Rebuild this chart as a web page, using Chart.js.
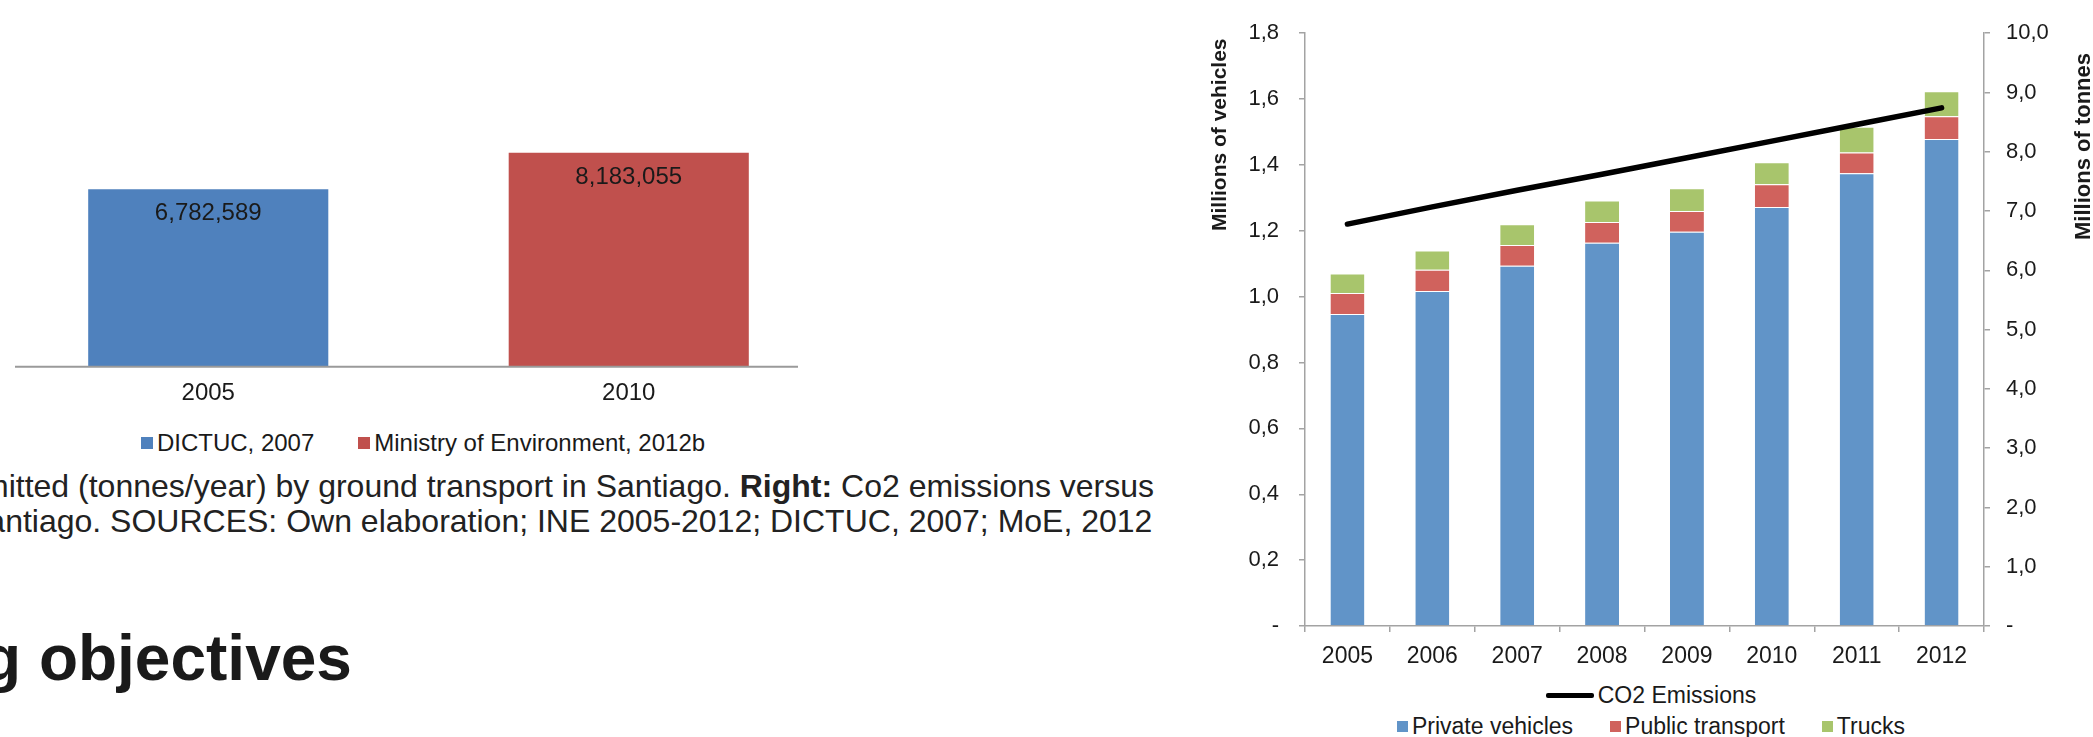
<!DOCTYPE html>
<html>
<head>
<meta charset="utf-8">
<script src="https://cdn.jsdelivr.net/npm/chart.js@4.4.1/dist/chart.umd.min.js"></script>
<style>
  html, body { margin: 0; padding: 0; background: #ffffff; }
  body { position: relative; width: 2093px; height: 737px; overflow: hidden; font-family: "Liberation Sans", Arial, sans-serif; color: #1a1a1a; }
  canvas { position: absolute; display: block; }
  .line { position: absolute; white-space: nowrap; font-size: 32px; line-height: 35px; color: #222; }
  .heading { position: absolute; white-space: nowrap; font-size: 64px; line-height: 64px; font-weight: bold; color: #1a1a1a; }
  .vtitle { position: absolute; white-space: nowrap; font-weight: bold; line-height: 1; transform-origin: left top; color: #1a1a1a; }
  .legend { position: absolute; display: flex; justify-content: center; align-items: center; white-space: nowrap; color: #1a1a1a; }
  .legend .item { display: flex; align-items: center; }
  .legend .swatch { display: inline-block; margin-right: 4px; }
</style>
</head>
<body>
<canvas id="inventory" width="841" height="326" style="left:-2px; top:100px;"></canvas>
<div id="inventoryLegend" class="legend" style="left:0px; top:431px; width:846px; height:24px; font-size:24px; line-height:24px;"></div>

<div class="line" style="left:-18px; top:469px;">mitted (tonnes/year) by ground transport in Santiago. <b>Right:</b> Co2 emissions versus</div>
<div class="line" style="left:-34px; top:504px;">Santiago. SOURCES: Own elaboration; INE 2005-2012; DICTUC, 2007; MoE, 2012</div>
<div class="heading" style="left:-18px; top:626px;">g objectives</div>

<canvas id="fleet" width="993" height="680" style="left:1100px; top:0px;"></canvas>
<div class="vtitle" style="left:1208px; top:231px; font-size:21px; transform: rotate(-90deg);">Millions of vehicles</div>
<div class="vtitle" style="left:2072px; top:240px; font-size:22px; transform: rotate(-90deg);">Millions of tonnes</div>
<div id="fleetLegendLine" class="legend" style="left:1351px; top:684px; width:600px; height:23px; font-size:23px; line-height:23px;"></div>
<div id="fleetLegendBars" class="legend" style="left:1351px; top:715px; width:600px; height:23px; font-size:23px; line-height:23px;"></div>

<script>
// ---- CO2 inventories (tonnes/year) ----
const inventoryYears = ['2005', '2010'];
const dictucTonnes = [6782589, null];
const ministryTonnes = [null, 8183055];

// ---- Vehicle fleet (millions) and CO2 emissions (millions of tonnes) ----
const years = ['2005', '2006', '2007', '2008', '2009', '2010', '2011', '2012'];
const privateVehicles = [0.947, 1.017, 1.094, 1.164, 1.197, 1.272, 1.375, 1.479];
const publicTransport = [0.064, 0.065, 0.063, 0.063, 0.063, 0.069, 0.063, 0.069];
const trucks = [0.059, 0.058, 0.063, 0.065, 0.069, 0.067, 0.078, 0.076];
const co2Emissions = [6.78, 7.07, 7.35, 7.62, 7.90, 8.18, 8.46, 8.74];

const vehicleTicks = [0, 0.2, 0.4, 0.6, 0.8, 1.0, 1.2, 1.4, 1.6, 1.8];
const vehicleTickLabels = ['-', '0,2', '0,4', '0,6', '0,8', '1,0', '1,2', '1,4', '1,6', '1,8'];
const tonneTicks = [0, 1, 2, 3, 4, 5, 6, 7, 8, 9, 10];
const tonneTickLabels = ['-', '1,0', '2,0', '3,0', '4,0', '5,0', '6,0', '7,0', '8,0', '9,0', '10,0'];

const FONT = '"Liberation Sans", Arial, sans-serif';
const INK = '#1a1a1a';
const AXIS = '#a3a3a3';

// Baseline of the inventory chart and the value printed inside each bar
const inventoryDecor = {
  id: 'inventoryDecor',
  afterDatasetsDraw(chart) {
    const ctx = chart.ctx;
    const y0 = chart.scales.y.getPixelForValue(0);
    ctx.save();
    ctx.strokeStyle = '#9a9a9a';
    ctx.lineWidth = 2;
    ctx.beginPath();
    ctx.moveTo(17, y0 + 0.7);
    ctx.lineTo(800, y0 + 0.7);
    ctx.stroke();
    ctx.fillStyle = INK;
    ctx.font = '24px ' + FONT;
    ctx.textAlign = 'center';
    ctx.textBaseline = 'middle';
    chart.data.datasets.forEach((ds, di) => {
      chart.getDatasetMeta(di).data.forEach((bar, i) => {
        const v = ds.data[i];
        if (v == null) return;
        ctx.fillText(v.toLocaleString('en-US'), bar.x, bar.y + 24.5);
      });
    });
    ctx.restore();
  }
};

const inventoryChart = new Chart(document.getElementById('inventory'), {
  type: 'bar',
  data: {
    labels: inventoryYears,
    datasets: [
      { label: 'DICTUC, 2007', data: dictucTonnes, backgroundColor: '#4f81bd' },
      { label: 'Ministry of Environment, 2012b', data: ministryTonnes, backgroundColor: '#c0504d' }
    ]
  },
  options: {
    responsive: false,
    animation: false,
    devicePixelRatio: 1,
    layout: { padding: { top: 31.5, left: 0, right: 0, bottom: 0 } },
    datasets: { bar: { grouped: false, categoryPercentage: 1, barPercentage: 0.571 } },
    plugins: { legend: { display: false }, tooltip: { enabled: false } },
    scales: {
      x: {
        grid: { display: false, drawTicks: false },
        border: { display: false },
        ticks: { color: INK, font: { family: FONT, size: 24 }, padding: 13 },
        afterFit(scale) { scale.height = 60; }
      },
      y: { display: false, min: 0, max: 9000000 }
    }
  },
  plugins: [inventoryDecor]
});

const fleetChart = new Chart(document.getElementById('fleet'), {
  data: {
    labels: years,
    datasets: [
      { type: 'line', label: 'CO2 Emissions', data: co2Emissions, yAxisID: 'y1', order: 0,
        borderColor: '#000000', backgroundColor: '#000000', borderWidth: 5.5, pointRadius: 0,
        borderCapStyle: 'round', borderJoinStyle: 'round', tension: 0 },
      { type: 'bar', label: 'Private vehicles', data: privateVehicles, yAxisID: 'y', order: 1,
        backgroundColor: '#6194c8', borderColor: 'rgba(255,255,255,0.45)', borderWidth: { top: 1, left: 0, right: 0, bottom: 0 }, borderSkipped: 'bottom' },
      { type: 'bar', label: 'Public transport', data: publicTransport, yAxisID: 'y', order: 1,
        backgroundColor: '#d0625d', borderColor: 'rgba(255,255,255,0.45)', borderWidth: { top: 1, left: 0, right: 0, bottom: 0 }, borderSkipped: 'bottom' },
      { type: 'bar', label: 'Trucks', data: trucks, yAxisID: 'y', order: 1,
        backgroundColor: '#a8c56c', borderColor: 'rgba(255,255,255,0.45)', borderWidth: { top: 1, left: 0, right: 0, bottom: 0 }, borderSkipped: 'bottom' }
    ]
  },
  options: {
    responsive: false,
    animation: false,
    devicePixelRatio: 1,
    layout: { padding: { top: 28, left: 0, right: 0, bottom: 0 } },
    datasets: { bar: { categoryPercentage: 0.8, barPercentage: 0.5 } },
    plugins: { legend: { display: false }, tooltip: { enabled: false } },
    scales: {
      x: {
        stacked: true,
        offset: true,
        grid: { display: true, drawOnChartArea: false, offset: true, tickLength: 6, color: AXIS, lineWidth: 1.5 },
        border: { color: AXIS, width: 1.5 },
        ticks: { color: INK, font: { family: FONT, size: 23 }, padding: 11 },
        afterFit(scale) { scale.height = 54; }
      },
      y: {
        stacked: true,
        position: 'left',
        min: 0,
        max: 1.8,
        grid: { drawOnChartArea: false, tickLength: 6, color: AXIS, lineWidth: 1.5 },
        border: { color: AXIS, width: 1.5 },
        afterBuildTicks(scale) { scale.ticks = vehicleTicks.map(v => ({ value: v })); },
        ticks: { color: INK, font: { family: FONT, size: 22 }, padding: 20,
                 callback: (value, index) => vehicleTickLabels[index] },
        afterFit(scale) { scale.width = 205; }
      },
      y1: {
        position: 'right',
        min: 0,
        max: 10,
        grid: { drawOnChartArea: false, tickLength: 6, color: AXIS, lineWidth: 1.5 },
        border: { color: AXIS, width: 1.5 },
        afterBuildTicks(scale) { scale.ticks = tonneTicks.map(v => ({ value: v })); },
        ticks: { color: INK, font: { family: FONT, size: 22 }, padding: 16,
                 callback: (value, index) => tonneTickLabels[index] },
        afterFit(scale) { scale.width = 109; }
      }
    }
  }
});

// HTML legends built from the dataset definitions
function legendItem(label, swatchCss, gapLeft) {
  const item = document.createElement('span');
  item.className = 'item';
  if (gapLeft) item.style.marginLeft = gapLeft + 'px';
  const sw = document.createElement('span');
  sw.className = 'swatch';
  sw.style.cssText = swatchCss;
  const tx = document.createElement('span');
  tx.textContent = label;
  item.appendChild(sw);
  item.appendChild(tx);
  return item;
}

const invLegend = document.getElementById('inventoryLegend');
inventoryChart.data.datasets.forEach((ds, i) => {
  invLegend.appendChild(legendItem(ds.label,
    'width:12px;height:12px;background:' + ds.backgroundColor + ';', i ? 44 : 0));
});

const lineLegend = document.getElementById('fleetLegendLine');
const barLegend = document.getElementById('fleetLegendBars');
let barCount = 0;
fleetChart.data.datasets.forEach(ds => {
  if (ds.type === 'line') {
    lineLegend.appendChild(legendItem(ds.label,
      'width:48px;height:5px;border-radius:2px;background:' + ds.borderColor + ';', 0));
  } else {
    barLegend.appendChild(legendItem(ds.label,
      'width:11px;height:11px;background:' + ds.backgroundColor + ';', barCount ? 37 : 0));
    barCount++;
  }
});
</script>
</body>
</html>
